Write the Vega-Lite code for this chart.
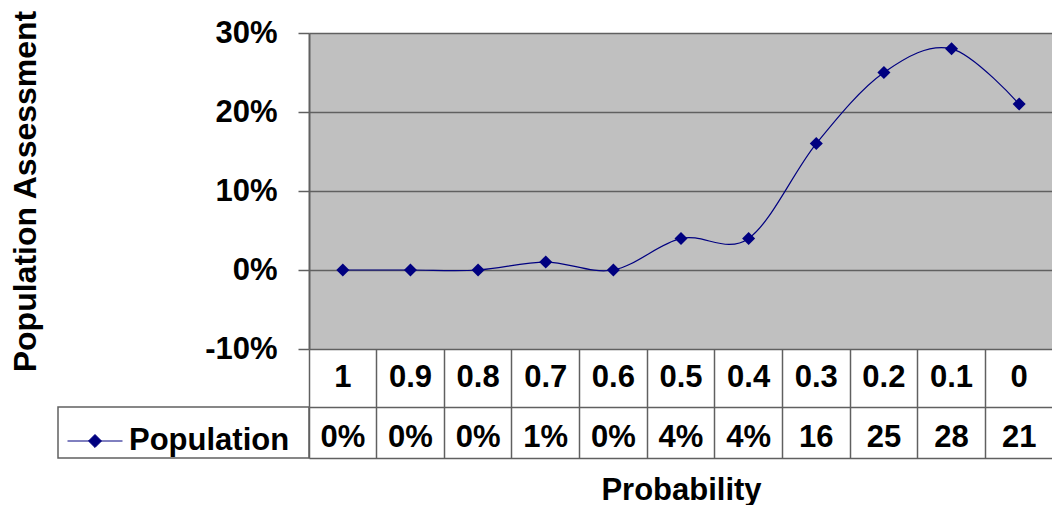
{
  "$schema": "https://vega.github.io/schema/vega-lite/v6.json",
  "background": "white",
  "padding": {"left": 9, "top": 9, "right": 0, "bottom": 0},
  "config": {"font": "Liberation Sans", "view": {"stroke": null}},
  "datasets": {
    "pop": [
      {"p": "1", "v": 0, "t": "0%", "s": "Population"},
      {"p": "0.9", "v": 0, "t": "0%", "s": "Population"},
      {"p": "0.8", "v": 0, "t": "0%", "s": "Population"},
      {"p": "0.7", "v": 0.01, "t": "1%", "s": "Population"},
      {"p": "0.6", "v": 0, "t": "0%", "s": "Population"},
      {"p": "0.5", "v": 0.04, "t": "4%", "s": "Population"},
      {"p": "0.4", "v": 0.04, "t": "4%", "s": "Population"},
      {"p": "0.3", "v": 0.16, "t": "16", "s": "Population"},
      {"p": "0.2", "v": 0.25, "t": "25", "s": "Population"},
      {"p": "0.1", "v": 0.28, "t": "28", "s": "Population"},
      {"p": "0", "v": 0.21, "t": "21", "s": "Population"}
    ]
  },
  "columns": 2,
  "spacing": 0,
  "bounds": "flush",
  "align": "each",
  "concat": [
    {"width": 251, "height": 316, "data": {"values": []}, "mark": "text"},
    {
      "width": 744,
      "height": 316,
      "data": {"name": "pop"},
      "view": {"fill": "#C0C0C0", "stroke": null},
      "encoding": {
        "x": {"field": "p", "type": "ordinal", "sort": null, "axis": null},
        "y": {
          "field": "v",
          "type": "quantitative",
          "scale": {"domain": [-0.1, 0.3], "nice": false, "zero": false},
          "axis": {
            "title": "Population Assessment",
            "format": ".0%",
            "labelExpr": "replace(datum.label, '\u2212', '-')",
            "values": [-0.1, 0, 0.1, 0.2, 0.3],
            "grid": true,
            "gridColor": "#606060",
            "gridWidth": 1.5,
            "gridOpacity": 1,
            "domainColor": "#606060",
            "domainWidth": 2,
            "tickColor": "#606060",
            "tickSize": 11,
            "tickWidth": 1.5,
            "labelFontSize": 31,
            "labelFontWeight": "bold",
            "labelColor": "#000000",
            "labelPadding": 21,
            "titleFontSize": 32,
            "titleFontWeight": "bold",
            "titleColor": "#000000",
            "titlePadding": 162
          }
        }
      },
      "layer": [
        {"mark": {"type": "line", "interpolate": "cardinal", "color": "#000080", "strokeWidth": 1.2}},
        {
          "mark": {"type": "point", "shape": "diamond", "filled": true, "size": 170, "opacity": 1},
          "encoding": {
            "color": {
              "field": "s",
              "type": "nominal",
              "scale": {"range": ["#000080"]},
              "legend": {
                "orient": "none",
                "legendX": 9,
                "legendY": 380,
                "title": null,
                "padding": 0,
                "symbolType": "M-1,0L1,0M0,-0.236L0.236,0L0,0.236L-0.236,0Z",
                "symbolSize": 3025,
                "symbolStrokeWidth": 1,
                "symbolStrokeColor": "#000080",
                "symbolFillColor": "#000080",
                "symbolOpacity": 1,
                "labelFontSize": 31,
                "labelFontWeight": "bold",
                "labelColor": "#000000",
                "labelOffset": 6,
                "labelLimit": 400,
                "encode": {"symbols": {"update": {"stroke": {"value": "#000080"}, "strokeWidth": {"value": 1}}}}
              }
            }
          }
        }
      ]
    },
    {"width": 251, "height": 58, "data": {"values": []}, "mark": "text"},
    {
      "width": 744,
      "height": 58,
      "data": {"name": "pop"},
      "mark": {"type": "text", "fontSize": 31, "fontWeight": "bold", "color": "#000000"},
      "encoding": {
        "x": {
          "field": "p",
          "type": "ordinal",
          "sort": null,
          "scale": {"type": "band", "paddingInner": 0, "paddingOuter": 0},
          "axis": {
            "orient": "bottom",
            "labels": false,
            "ticks": false,
            "title": null,
            "grid": true,
            "bandPosition": 0,
            "gridColor": "#606060",
            "gridWidth": 1.5,
            "gridOpacity": 1,
            "domain": true,
            "domainColor": "#606060",
            "domainWidth": 1.5
          }
        },
        "text": {"field": "p"}
      }
    },
    {
      "width": 251,
      "height": 51,
      "data": {"values": []},
      "mark": "text",
      "view": {"stroke": "#606060", "strokeWidth": 1.5}
    },
    {
      "width": 744,
      "height": 51,
      "data": {"name": "pop"},
      "mark": {"type": "text", "fontSize": 31, "fontWeight": "bold", "color": "#000000", "dy": 5},
      "encoding": {
        "x": {
          "field": "p",
          "type": "ordinal",
          "sort": null,
          "scale": {"type": "band", "paddingInner": 0, "paddingOuter": 0},
          "axis": {
            "orient": "bottom",
            "labels": false,
            "ticks": false,
            "title": "Probability",
            "titleFontSize": 31,
            "titleFontWeight": "bold",
            "titleColor": "#000000",
            "titlePadding": 17,
            "grid": true,
            "bandPosition": 0,
            "gridColor": "#606060",
            "gridWidth": 1.5,
            "gridOpacity": 1,
            "domain": true,
            "domainColor": "#606060",
            "domainWidth": 1.5
          }
        },
        "text": {"field": "t"}
      }
    }
  ]
}
